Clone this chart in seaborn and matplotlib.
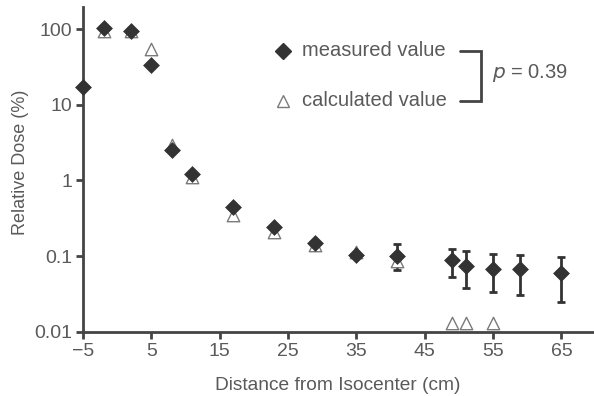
import matplotlib
matplotlib.use("Agg")
import matplotlib.pyplot as plt
import seaborn as sns
import numpy as np
import pandas as pd

# Data
meas_x = [-5, -2, 2, 5, 8, 11, 17, 23, 29, 35, 41, 49, 51, 55, 59, 65]
meas_y = [17, 103, 94, 34, 2.55, 1.2, 0.45, 0.24, 0.148, 0.105, 0.1, 0.088, 0.075, 0.068, 0.067, 0.06]
err_x = [41, 49, 51, 55, 59, 65]
err_y = [0.1, 0.088, 0.075, 0.068, 0.067, 0.06]
err_lo = [0.066, 0.053, 0.038, 0.034, 0.031, 0.025]
err_hi = [0.145, 0.125, 0.117, 0.108, 0.105, 0.096]

calc_x = [-2, 2, 5, 8, 11, 17, 23, 29, 35, 41, 49, 51, 55]
calc_y = [94, 93, 55, 2.9, 1.1, 0.35, 0.21, 0.14, 0.115, 0.085, 0.0132, 0.0132, 0.0132]

x_ticks = [-5, 5, 15, 25, 35, 45, 55, 65]
x_ticklabels = ["\u22125", "5", "15", "25", "35", "45", "55", "65"]
y_ticks = [0.01, 0.1, 1, 10, 100]
y_ticklabels = ["0.01", "0.1", "1", "10", "100"]

sns.set_style("white")
plt.rcParams['font.family'] = ['Liberation Sans', 'DejaVu Sans']

text_c = "#5a5a5a"
dark = "#333333"

fig = plt.figure(figsize=(5.94, 3.96), dpi=100)
ax = fig.add_axes([0.14, 0.162, 0.858, 0.82])

meas_df = pd.DataFrame({"x": meas_x, "y": meas_y})
calc_df = pd.DataFrame({"x": calc_x, "y": calc_y})

ax.errorbar(err_x, err_y,
            yerr=[np.array(err_y) - np.array(err_lo), np.array(err_hi) - np.array(err_y)],
            fmt="none", ecolor=dark, elinewidth=2, capsize=3, capthick=2, zorder=2)
sns.scatterplot(data=calc_df, x="x", y="y", marker="^", s=80, facecolor="white",
                edgecolor="#7a7a7a", linewidth=1.0, ax=ax, zorder=3, clip_on=False)
sns.scatterplot(data=meas_df, x="x", y="y", marker="D", s=65, color=dark,
                edgecolor=dark, linewidth=0.5, ax=ax, zorder=4, clip_on=False)

ax.set_yscale("log")
ax.set_xlim(-5, 69.6)
ax.set_ylim(0.01, 195)
ax.set_xticks(x_ticks)
ax.set_xticklabels(x_ticklabels)
ax.set_yticks(y_ticks)
ax.set_yticklabels(y_ticklabels)
ax.yaxis.set_minor_locator(matplotlib.ticker.NullLocator())

for s in ["top", "right"]:
    ax.spines[s].set_visible(False)
for s in ["left", "bottom"]:
    ax.spines[s].set_color("#444444")
    ax.spines[s].set_linewidth(2)

ax.tick_params(axis="both", which="major", direction="out", length=5, width=2,
               color="#444444", labelcolor=text_c, labelsize=14, pad=3, bottom=True, left=True)

ax.set_xlabel("Distance from Isocenter (cm)", color=text_c, fontsize=13.8, labelpad=12)
ax.set_ylabel("Relative Dose (%)", color=text_c, fontsize=13)
ax.yaxis.set_label_coords(-0.106, 0.523)

# Legend-like annotation
ax.plot([24.3], [52], marker="D", markersize=8, color=dark, ls="none", clip_on=False)
ax.plot([24.3], [11.3], marker="^", markersize=8.5, markerfacecolor="white",
        markeredgecolor="#7a7a7a", mew=1.0, ls="none", clip_on=False)
ax.text(27.0, 52, "measured value", color=text_c, fontsize=14.5, va="center", ha="left")
ax.text(27.0, 11.3, "calculated value", color=text_c, fontsize=14.5, va="center", ha="left")
# bracket
bx0, bx1 = 50.2, 53.3
ax.plot([bx0, bx1, bx1, bx0], [52, 52, 11.3, 11.3], color="#444444", lw=2, solid_joinstyle="miter")
ax.text(54.8, 26, "$p$ = 0.39", color=text_c, fontsize=14.5, va="center", ha="left")

fig.savefig("out.png", dpi=100)
